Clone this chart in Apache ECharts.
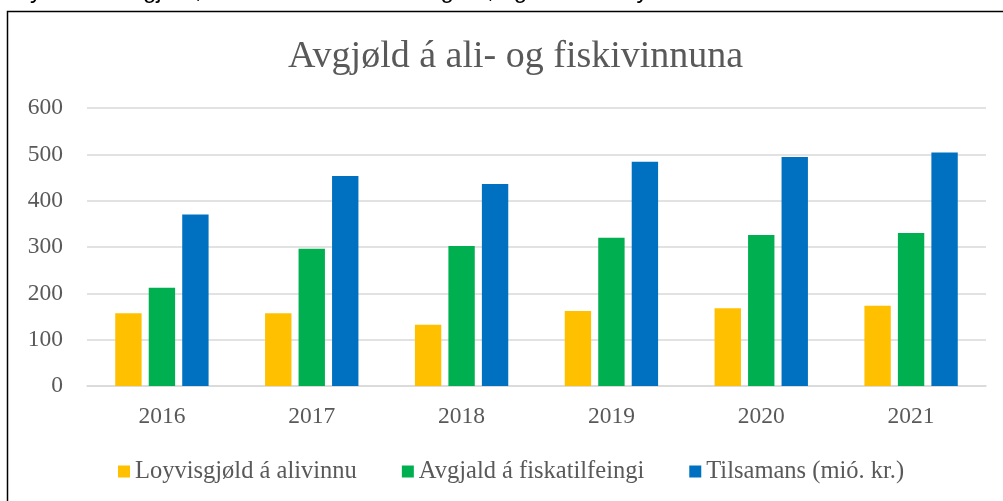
<!DOCTYPE html>
<html>
<head>
<meta charset="utf-8">
<script src="https://cdn.jsdelivr.net/npm/echarts@6/dist/echarts.min.js"></script>
<style>
  html, body { margin: 0; padding: 0; background: #fff; }
  #chart { width: 1003px; height: 501px; }
</style>
</head>
<body>
<div id="chart"></div>
<script>
// ár og virði (mió. kr.)
var years = ['2016', '2017', '2018', '2019', '2020', '2021'];
var loyvisgjold = [157, 157, 132, 162, 168, 173];
var avgjald = [212, 296, 302, 320, 326, 330];
var tilsamans = [370, 453, 436, 484, 494, 504];
var seriesNames = ['Loyvisgjøld á alivinnu', 'Avgjald á fiskatilfeingi', 'Tilsamans (mió. kr.)'];
var yTicks = [0, 100, 200, 300, 400, 500, 600];

var serif = 'Liberation Serif';
var grey = '#595959';

var myChart = echarts.init(document.getElementById('chart'));

var option = {
    animation: false,
    backgroundColor: '#fff',
    color: ['#FFC000', '#00B050', '#0070C0'],
    title: {
        text: 'Avgjøld á ali- og fiskivinnuna',
        left: 283,
        top: 33,
        textStyle: { fontFamily: serif, fontSize: 38, fontWeight: 'normal', color: grey }
    },
    // ramman kring myndina og tekstur sum er skorin av
    graphic: [
        {
            type: 'rect',
            shape: { x: 7.5, y: 11.5, width: 1010, height: 500 },
            style: { fill: 'none', stroke: '#000', lineWidth: 1.5 },
            silent: true
        },
        {
            type: 'text',
            left: 10,
            top: -21,
            style: {
                text: 'Mynd 12: Avgjøld, sum vinnurnar eru álagdar, og hvussu tey eru',
                font: '24px "Liberation Sans"',
                fill: '#000'
            },
            silent: true
        }
    ],
    legend: {
        data: seriesNames,
        left: 113,
        top: 454,
        itemWidth: 12,
        itemHeight: 12,
        itemGap: 45,
        icon: 'rect',
        textStyle: { fontFamily: serif, fontSize: 24.5, color: grey }
    },
    grid: { left: 87, right: 17, top: 108, bottom: 115 },
    xAxis: {
        type: 'category',
        data: years,
        axisLine: { lineStyle: { color: '#d9d9d9', width: 1.5 } },
        axisTick: { show: false },
        axisLabel: { fontFamily: serif, fontSize: 23.5, color: grey, margin: 19 }
    },
    yAxis: {
        type: 'value',
        min: yTicks[0],
        max: yTicks[yTicks.length - 1],
        interval: 100,
        axisLine: { show: false },
        axisTick: { show: false },
        axisLabel: { fontFamily: serif, fontSize: 23.5, color: grey, margin: 24 },
        splitLine: { lineStyle: { color: '#d9d9d9', width: 1.5 } }
    },
    series: [
        { name: seriesNames[0], type: 'bar', data: loyvisgjold, barWidth: '17.6%', barGap: '27%' },
        { name: seriesNames[1], type: 'bar', data: avgjald, barWidth: '17.6%', barGap: '27%' },
        { name: seriesNames[2], type: 'bar', data: tilsamans, barWidth: '17.6%', barGap: '27%' }
    ]
};

myChart.setOption(option);
</script>
</body>
</html>
